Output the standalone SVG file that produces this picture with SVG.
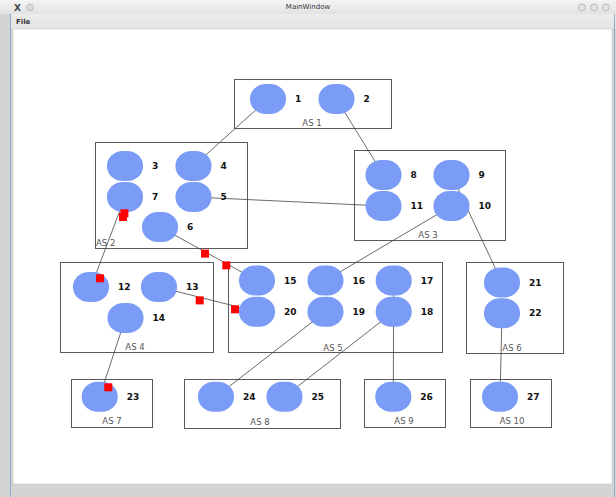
<svg xmlns="http://www.w3.org/2000/svg" width="616" height="497" viewBox="0 0 616 497">
<defs>
<linearGradient id="tb" x1="0" y1="0" x2="0" y2="1"><stop offset="0" stop-color="#f4f4f4"/><stop offset="1" stop-color="#e2e2e2"/></linearGradient>
<linearGradient id="mb" x1="0" y1="0" x2="0" y2="1"><stop offset="0" stop-color="#ececec"/><stop offset="1" stop-color="#e4e4e4"/></linearGradient>
</defs>
<style>
.as{fill:none;stroke:#5a5a5a;stroke-width:1}
.asl{font-family:"DejaVu Sans",sans-serif;font-size:8.5px;fill:#555;text-anchor:middle}
.n{fill:#7a9cf7}
.nl{font-family:"DejaVu Sans",sans-serif;font-size:9px;font-weight:bold;fill:#111}
.e{stroke:#444;stroke-width:0.8;fill:none}
.r{fill:#ff0000}
.ui{font-family:"DejaVu Sans",sans-serif;font-size:7px;fill:#333}
</style>
<!-- window chrome -->
<rect x="0" y="0" width="616" height="497" fill="#d4d4d4"/>
<rect x="0" y="0" width="616" height="14" fill="url(#tb)"/>
<rect x="10" y="14" width="606" height="15" fill="url(#mb)"/>
<line x1="10.5" y1="14" x2="10.5" y2="497" stroke="#8fa8d0" stroke-width="1"/>
<line x1="614.5" y1="14" x2="614.5" y2="497" stroke="#8fa8d0" stroke-width="1"/>
<text class="ui" x="308" y="9" text-anchor="middle">MainWindow</text>
<text class="ui" x="16" y="24" font-weight="bold">File</text>
<text x="14" y="11" font-family="DejaVu Sans,sans-serif" font-size="9" font-weight="bold" fill="#444">X</text>
<circle cx="30" cy="7.5" r="3.5" fill="#d8d8d8" stroke="#aaa" stroke-width="0.6"/>
<circle cx="582" cy="7.5" r="3.5" fill="#e4e4e4" stroke="#999" stroke-width="0.6"/>
<circle cx="594" cy="7.5" r="3.5" fill="#e4e4e4" stroke="#999" stroke-width="0.6"/>
<circle cx="606" cy="7.5" r="3.5" fill="#e4e4e4" stroke="#999" stroke-width="0.6"/>
<rect x="13" y="29" width="599" height="455" fill="#ffffff" stroke="#c8c8c8" stroke-width="0.6"/>

<!-- AS boxes -->
<g id="as1"><rect class="as" x="234.5" y="79.5" width="157" height="49"/><text class="asl" x="312" y="126">AS 1</text></g>
<g id="as2"><rect class="as" x="95.5" y="142.5" width="152" height="106"/><text class="asl" x="96" y="246" style="text-anchor:start">AS 2</text></g>
<g id="as3"><rect class="as" x="354.5" y="150.5" width="151" height="90"/><text class="asl" x="428" y="237.5">AS 3</text></g>
<g id="as4"><rect class="as" x="60.5" y="262.5" width="153" height="90"/><text class="asl" x="135" y="349.5">AS 4</text></g>
<g id="as5"><rect class="as" x="228.5" y="262.5" width="214" height="90"/><text class="asl" x="333" y="350.5">AS 5</text></g>
<g id="as6"><rect class="as" x="466.5" y="262.5" width="97" height="91"/><text class="asl" x="512" y="351">AS 6</text></g>
<g id="as7"><rect class="as" x="71.5" y="379.5" width="81" height="48"/><text class="asl" x="112" y="424">AS 7</text></g>
<g id="as8"><rect class="as" x="184.5" y="379.5" width="156" height="49"/><text class="asl" x="260" y="425">AS 8</text></g>
<g id="as9"><rect class="as" x="364.5" y="379.5" width="81" height="48"/><text class="asl" x="404" y="424">AS 9</text></g>
<g id="as10"><rect class="as" x="470.5" y="379.5" width="81" height="48"/><text class="asl" x="512" y="424">AS 10</text></g>

<!-- connectors -->
<g id="connectors">
<line class="e" x1="268" y1="99" x2="193.5" y2="166"/>
<line class="e" x1="336.5" y1="99" x2="383.5" y2="175"/>
<line class="e" x1="193.5" y1="197" x2="383.5" y2="206"/>
<line class="e" x1="160" y1="227" x2="257" y2="280.5"/>
<line class="e" x1="125" y1="197" x2="91" y2="287"/>
<line class="e" x1="159" y1="287" x2="257" y2="311.7"/>
<line class="e" x1="451.5" y1="175" x2="502" y2="282.5"/>
<line class="e" x1="451.5" y1="206" x2="325.5" y2="280.5"/>
<line class="e" x1="393.7" y1="280.5" x2="393.3" y2="396.7"/>
<line class="e" x1="502" y1="313.3" x2="500" y2="396.7"/>
<line class="e" x1="325.5" y1="311.7" x2="216" y2="396.7"/>
<line class="e" x1="393.7" y1="311.7" x2="284.5" y2="396.7"/>
<line class="e" x1="125.5" y1="318" x2="99.7" y2="396.7"/>
</g>

<!-- nodes -->
<g id="n1" transform="translate(268,99)"><rect class="n" x="-18" y="-15" width="36" height="30" rx="16" ry="14.5"/><text class="nl" x="27" y="3">1</text></g>
<g id="n2" transform="translate(336.5,99)"><rect class="n" x="-18" y="-15" width="36" height="30" rx="16" ry="14.5"/><text class="nl" x="27" y="3">2</text></g>
<g id="n3" transform="translate(125,166)"><rect class="n" x="-18" y="-15" width="36" height="30" rx="16" ry="14.5"/><text class="nl" x="27" y="3">3</text></g>
<g id="n4" transform="translate(193.5,166)"><rect class="n" x="-18" y="-15" width="36" height="30" rx="16" ry="14.5"/><text class="nl" x="27" y="3">4</text></g>
<g id="n7" transform="translate(125,197)"><rect class="n" x="-18" y="-15" width="36" height="30" rx="16" ry="14.5"/><text class="nl" x="27" y="3">7</text></g>
<g id="n5" transform="translate(193.5,197)"><rect class="n" x="-18" y="-15" width="36" height="30" rx="16" ry="14.5"/><text class="nl" x="27" y="3">5</text></g>
<g id="n6" transform="translate(160,227)"><rect class="n" x="-18" y="-15" width="36" height="30" rx="16" ry="14.5"/><text class="nl" x="27" y="3">6</text></g>
<g id="n8" transform="translate(383.5,175)"><rect class="n" x="-18" y="-15" width="36" height="30" rx="16" ry="14.5"/><text class="nl" x="27" y="3">8</text></g>
<g id="n9" transform="translate(451.5,175)"><rect class="n" x="-18" y="-15" width="36" height="30" rx="16" ry="14.5"/><text class="nl" x="27" y="3">9</text></g>
<g id="n11" transform="translate(383.5,206)"><rect class="n" x="-18" y="-15" width="36" height="30" rx="16" ry="14.5"/><text class="nl" x="27" y="3">11</text></g>
<g id="n10" transform="translate(451.5,206)"><rect class="n" x="-18" y="-15" width="36" height="30" rx="16" ry="14.5"/><text class="nl" x="27" y="3">10</text></g>
<g id="n12" transform="translate(91,287)"><rect class="n" x="-18" y="-15" width="36" height="30" rx="16" ry="14.5"/><text class="nl" x="27" y="3">12</text></g>
<g id="n13" transform="translate(159,287)"><rect class="n" x="-18" y="-15" width="36" height="30" rx="16" ry="14.5"/><text class="nl" x="27" y="3">13</text></g>
<g id="n14" transform="translate(125.5,318)"><rect class="n" x="-18" y="-15" width="36" height="30" rx="16" ry="14.5"/><text class="nl" x="27" y="3">14</text></g>
<g id="n15" transform="translate(257,280.5)"><rect class="n" x="-18" y="-15" width="36" height="30" rx="16" ry="14.5"/><text class="nl" x="27" y="3">15</text></g>
<g id="n16" transform="translate(325.5,280.5)"><rect class="n" x="-18" y="-15" width="36" height="30" rx="16" ry="14.5"/><text class="nl" x="27" y="3">16</text></g>
<g id="n17" transform="translate(393.7,280.5)"><rect class="n" x="-18" y="-15" width="36" height="30" rx="16" ry="14.5"/><text class="nl" x="27" y="3">17</text></g>
<g id="n20" transform="translate(257,311.7)"><rect class="n" x="-18" y="-15" width="36" height="30" rx="16" ry="14.5"/><text class="nl" x="27" y="3">20</text></g>
<g id="n19" transform="translate(325.5,311.7)"><rect class="n" x="-18" y="-15" width="36" height="30" rx="16" ry="14.5"/><text class="nl" x="27" y="3">19</text></g>
<g id="n18" transform="translate(393.7,311.7)"><rect class="n" x="-18" y="-15" width="36" height="30" rx="16" ry="14.5"/><text class="nl" x="27" y="3">18</text></g>
<g id="n21" transform="translate(502,282.5)"><rect class="n" x="-18" y="-15" width="36" height="30" rx="16" ry="14.5"/><text class="nl" x="27" y="3">21</text></g>
<g id="n22" transform="translate(502,313.3)"><rect class="n" x="-18" y="-15" width="36" height="30" rx="16" ry="14.5"/><text class="nl" x="27" y="3">22</text></g>
<g id="n23" transform="translate(99.7,396.7)"><rect class="n" x="-18" y="-15" width="36" height="30" rx="16" ry="14.5"/><text class="nl" x="27" y="3">23</text></g>
<g id="n24" transform="translate(216,396.7)"><rect class="n" x="-18" y="-15" width="36" height="30" rx="16" ry="14.5"/><text class="nl" x="27" y="3">24</text></g>
<g id="n25" transform="translate(284.5,396.7)"><rect class="n" x="-18" y="-15" width="36" height="30" rx="16" ry="14.5"/><text class="nl" x="27" y="3">25</text></g>
<g id="n26" transform="translate(393.3,396.7)"><rect class="n" x="-18" y="-15" width="36" height="30" rx="16" ry="14.5"/><text class="nl" x="27" y="3">26</text></g>
<g id="n27" transform="translate(500,396.7)"><rect class="n" x="-18" y="-15" width="36" height="30" rx="16" ry="14.5"/><text class="nl" x="27" y="3">27</text></g>

<!-- red markers -->
<g id="markers">
<rect class="r" x="120.4" y="209.3" width="8" height="8"/>
<rect class="r" x="119" y="213" width="8" height="8"/>
<rect class="r" x="96" y="274.3" width="8" height="8"/>
<rect class="r" x="201" y="249.6" width="8" height="8"/>
<rect class="r" x="222.3" y="261.4" width="8" height="8"/>
<rect class="r" x="195.7" y="296.4" width="8" height="8"/>
<rect class="r" x="231" y="305.3" width="8" height="8"/>
<rect class="r" x="104.3" y="383.3" width="8" height="8"/>
</g>
</svg>
